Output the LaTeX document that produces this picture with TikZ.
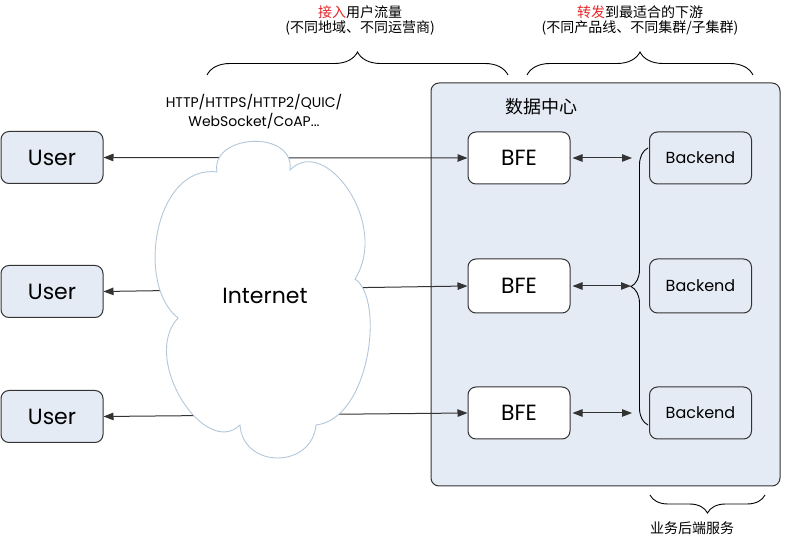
\documentclass[tikz,border=0pt]{standalone}
\usepackage{fontspec}
\setmainfont{Poppins}
\newfontfamily\cjk{Noto Sans CJK SC}
\usetikzlibrary{arrows.meta,decorations.pathreplacing}
\definecolor{boxfill}{HTML}{E5EBF5}
\definecolor{edge}{HTML}{333333}
\definecolor{cloudedge}{HTML}{B4C7DA}
\definecolor{hl}{HTML}{E8262A}
\begin{document}
\begin{tikzpicture}[x=1pt,y=1pt,
  box/.style={draw=edge, line width=1pt, rounded corners=8pt, minimum width=102pt, minimum height=52pt, inner sep=0pt},
  userbox/.style={box, fill=boxfill, font=\fontsize{22}{25}\selectfont},
  bfebox/.style={box, fill=white, font=\fontsize{22}{25}\selectfont},
  backbox/.style={box, fill=boxfill, font=\fontsize{16}{19}\selectfont},
  link/.style={draw=edge, line width=1pt, {Triangle[length=10pt,width=7.5pt]}-{Triangle[length=10pt,width=7.5pt]}},
  bracestyle/.style={draw=black, line width=0.9pt, decorate, decoration={brace, amplitude=#1}},
  cn/.style={font=\cjk\fontsize{14}{16}\selectfont, inner sep=0pt},
]
\fill[white] (0,0) rectangle (796,544);
\useasboundingbox (0,0) rectangle (796,544);

% data centre
\node[draw=edge, line width=1pt, fill=boxfill, rounded corners=8pt, minimum width=349pt, minimum height=403pt, inner sep=0pt] (dc) at (605.5,259.5) {};
\node[font=\cjk\fontsize{18}{20}\selectfont, inner sep=0pt] (dclabel) at (541.5,437) {数据中心};

% users
\node[userbox] (u1) at (52,386.5) {User};
\node[userbox] (u2) at (52,252.5) {User};
\node[userbox] (u3) at (52,127.5) {User};

% BFE
\node[bfebox] (b1) at (519,386) {BFE};
\node[bfebox, minimum height=54pt] (b2) at (519,258) {BFE};
\node[bfebox] (b3) at (519,131) {BFE};

% backends
\node[backbox] (k1) at (700.5,386) {Backend};
\node[backbox, minimum height=54pt] (k2) at (700.5,258) {Backend};
\node[backbox] (k3) at (700.5,131) {Backend};

% user <-> BFE links (behind the cloud)
\draw[link] (u1.east) -- (b1.west);
\draw[link] (u2.east) -- (b2.west);
\draw[link] (u3.east) -- (b3.west);

% cloud
\draw[draw=cloudedge, fill=white, line width=0.9pt]
  (217,372) .. controls (210,410) and (295,415) .. (290,374)
  .. controls (325,410) and (390,320) .. (355,265)
  .. controls (385,245) and (370,125) .. (316,119)
  .. controls (312,75) and (243,75) .. (240,119)
  .. controls (205,85) and (140,185) .. (178,226)
  .. controls (135,260) and (155,380) .. (217,372) -- cycle;
\node[font=\fontsize{22}{26}\selectfont, inner sep=0pt] (inet) at (265,248) {Internet};

% protocol label
\node[font=\fontsize{14}{19}\selectfont, align=center, inner sep=0pt] (proto) at (254,432) {HTTP/HTTPS/HTTP2/QUIC/\\WebSocket/CoAP...};

% BFE <-> backend brace
\coordinate (r1) at (632,386);
\coordinate (r2) at (631,258);
\coordinate (r3) at (632,131);
\draw[link] (b1.east) ++(2,0) -- (r1);
\draw[link] (b2.east) ++(2,0) -- (r2);
\draw[link] (b3.east) ++(2,0) -- (r3);
\draw[bracestyle=17pt] (648,119) -- (648,396);

% top braces
\draw[bracestyle=23pt] (207,469) -- (508,469);
\draw[bracestyle=23pt] (527,469) -- (753,469);
\node[cn] (t1a) at (360,532) {\textcolor{hl}{接入}用户流量};
\node[cn] (t1b) at (360,516) {(不同地域、不同运营商)};
\node[cn] (t2a) at (640,532) {\textcolor{hl}{转发}到最适合的下游};
\node[cn] (t2b) at (640,516) {(不同产品线、不同集群/子集群)};

% bottom brace
\draw[bracestyle=18pt] (765,49) -- (650,49);
\node[cn] (t3) at (692,16) {业务后端服务};
\end{tikzpicture}
\end{document}
